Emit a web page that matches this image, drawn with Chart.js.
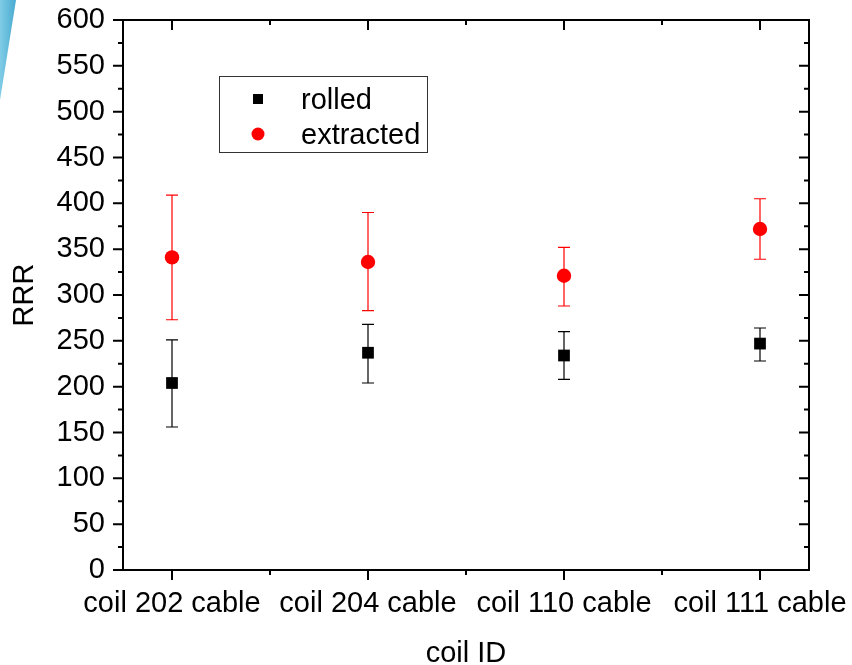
<!DOCTYPE html>
<html>
<head>
<meta charset="utf-8">
<script src="https://cdn.jsdelivr.net/npm/chart.js@4.4.0/dist/chart.umd.min.js"></script>
<style>
body { margin: 0; background: #fff; }
#wrap { position: relative; width: 852px; height: 665px; }
#stripe { position: absolute; left: 0; top: 0; width: 17px; height: 100px;
  background: linear-gradient(to right, #80cce6, #45a8cf);
  clip-path: polygon(0 0, 16px 0, 0 100px); }
</style>
</head>
<body>
<div id="wrap">
  <canvas id="chart" width="852" height="665"></canvas>
  <div id="stripe"></div>
</div>
<script>
// data
const coils = ["coil 202 cable", "coil 204 cable", "coil 110 cable", "coil 111 cable"];
const rolled = [204, 237, 234, 247];
const rolledLow = [156, 204, 208, 228];
const rolledHigh = [251, 268, 260, 264];
const extracted = [341, 336, 321, 372];
const extractedLow = [273, 283, 288, 339];
const extractedHigh = [409, 390, 352, 405];

const FONT = "Liberation Sans, Arial, sans-serif";
const SIZE = 29;

function points(vals) {
    return vals.map((v, i) => ({ x: i, y: v }));
}

// error bars drawn from the dataset low/high arrays
const errorBars = {
    id: "errorBars",
    beforeDatasetsDraw(chart) {
        const ctx = chart.ctx;
        const xs = chart.scales.x, ys = chart.scales.y;
        chart.data.datasets.forEach(ds => {
            ctx.save();
            ctx.strokeStyle = ds.borderColor;
            ctx.lineWidth = 1.2;
            ds.data.forEach((p, i) => {
                const px = xs.getPixelForValue(p.x);
                const lo = ys.getPixelForValue(ds.low[i]);
                const hi = ys.getPixelForValue(ds.high[i]);
                ctx.beginPath();
                ctx.moveTo(px, lo); ctx.lineTo(px, hi);
                ctx.moveTo(px - 6, lo); ctx.lineTo(px + 6, lo);
                ctx.moveTo(px - 6, hi); ctx.lineTo(px + 6, hi);
                ctx.stroke();
            });
            ctx.restore();
        });
    }
};

// box frame with major/minor ticks (outside on left/bottom, inside on right/top)
const frame = {
    id: "frame",
    afterDraw(chart) {
        const ctx = chart.ctx;
        const a = chart.chartArea;
        const xs = chart.scales.x, ys = chart.scales.y;
        ctx.save();
        ctx.strokeStyle = "#000";
        ctx.lineWidth = 2;
        ctx.strokeRect(a.left, a.top, a.right - a.left, a.bottom - a.top);
        ctx.beginPath();
        for (let v = 0; v <= 600; v += 25) {
            const py = ys.getPixelForValue(v);
            const len = v % 50 === 0 ? 10 : 5;
            ctx.moveTo(a.left - len, py); ctx.lineTo(a.left, py);
            ctx.moveTo(a.right, py); ctx.lineTo(a.right - len, py);
        }
        for (let v = 0; v <= coils.length - 1; v += 0.5) {
            const px = xs.getPixelForValue(v);
            const len = Number.isInteger(v) ? 10 : 5;
            ctx.moveTo(px, a.bottom); ctx.lineTo(px, a.bottom + len);
            ctx.moveTo(px, a.top); ctx.lineTo(px, a.top + len);
        }
        ctx.stroke();
        ctx.restore();
    }
};

// legend box inside the plot
const boxLegend = {
    id: "boxLegend",
    afterDraw(chart) {
        const ctx = chart.ctx;
        const a = chart.chartArea;
        const left = a.left + 96, top = a.top + 56;
        ctx.save();
        ctx.strokeStyle = "#333";
        ctx.lineWidth = 1;
        ctx.strokeRect(left + 0.5, top + 0.5, 208, 76);
        ctx.font = SIZE + "px " + FONT;
        ctx.textBaseline = "middle";
        chart.data.datasets.forEach((ds, i) => {
            const cy = top + 23 + i * 35;
            ctx.fillStyle = ds.backgroundColor;
            ctx.beginPath();
            if (ds.pointStyle === "rect") {
                ctx.rect(left + 34, cy - 5, 10, 10);
            } else {
                ctx.arc(left + 39, cy, 6.5, 0, Math.PI * 2);
            }
            ctx.fill();
            ctx.fillStyle = "#000";
            ctx.fillText(ds.label, left + 82, cy + 2);
        });
        ctx.restore();
    }
};

new Chart(document.getElementById("chart"), {
    type: "scatter",
    data: {
        datasets: [
            {
                label: "rolled",
                data: points(rolled),
                low: rolledLow,
                high: rolledHigh,
                pointStyle: "rect",
                pointRadius: 8.3,
                backgroundColor: "#000000",
                borderColor: "#000000",
                borderWidth: 0
            },
            {
                label: "extracted",
                data: points(extracted),
                low: extractedLow,
                high: extractedHigh,
                pointStyle: "circle",
                pointRadius: 7.2,
                backgroundColor: "#ff0000",
                borderColor: "#ff0000",
                borderWidth: 0
            }
        ]
    },
    options: {
        responsive: false,
        animation: false,
        devicePixelRatio: 1,
        layout: { padding: { top: 20, right: 43, left: 0, bottom: 0 } },
        plugins: { legend: { display: false }, tooltip: { enabled: false } },
        scales: {
            x: {
                type: "linear",
                min: -0.25,
                max: coils.length - 0.75,
                grid: { display: false, drawTicks: false },
                border: { display: false },
                afterBuildTicks: s => { s.ticks = coils.map((c, i) => ({ value: i })); },
                afterFit: s => { s.height = 95; s.paddingLeft = 0; s.paddingRight = 0; },
                ticks: {
                    autoSkip: false,
                    maxRotation: 0,
                    padding: 17,
                    color: "#000",
                    font: { family: FONT, size: SIZE },
                    callback: v => coils[v]
                },
                title: {
                    display: true,
                    text: "coil ID",
                    color: "#000",
                    padding: 0,
                    font: { family: FONT, size: SIZE, lineHeight: 0.75 }
                }
            },
            y: {
                min: 0,
                max: 600,
                grid: { display: false, drawTicks: false },
                border: { display: false },
                afterFit: s => { s.width = 123; s.paddingTop = 0; s.paddingBottom = 0; },
                ticks: {
                    stepSize: 50,
                    padding: 18,
                    color: "#000",
                    font: { family: FONT, size: SIZE }
                },
                title: {
                    display: true,
                    text: "RRR",
                    color: "#000",
                    padding: { top: 10, bottom: 0 },
                    font: { family: FONT, size: SIZE, lineHeight: 1 }
                }
            }
        }
    },
    plugins: [errorBars, frame, boxLegend]
});
</script>
</body>
</html>
